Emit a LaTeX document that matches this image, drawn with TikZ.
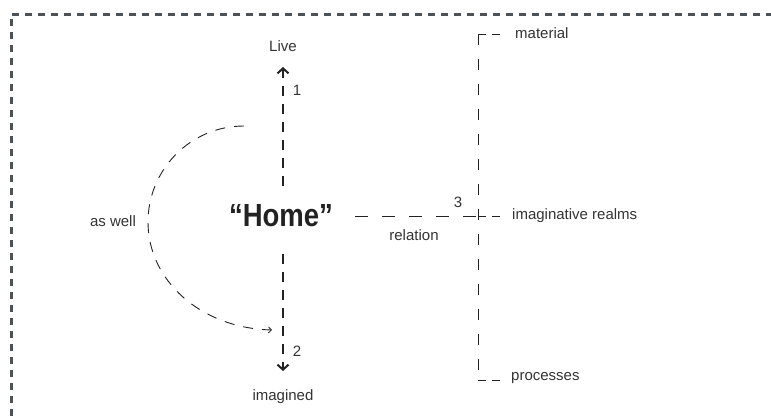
\documentclass[tikz,border=0pt]{standalone}
\usepackage{fontspec}
\setmainfont{Liberation Sans}
\usetikzlibrary{arrows.meta}
\definecolor{framec}{HTML}{4D5257}
\definecolor{inkc}{HTML}{222222}
\definecolor{txtc}{HTML}{333333}
\tikzset{
  lbl/.style={text=txtc, font=\fontsize{15}{18}\selectfont, inner sep=0pt},
  frameline/.style={draw=framec, line width=3pt, dash pattern=on 7pt off 6pt},
  boldaxis/.style={draw=inkc, line width=2.6pt, dash pattern=on 10pt off 8pt,
    -{Straight Barb[length=5pt,width=11pt,line width=2pt]}},
  thinline/.style={draw=inkc, line width=1pt, dash pattern=on 13pt off 14pt},
  bracketline/.style={draw=inkc, line width=1pt, dash pattern=on 11pt off 14pt},
  tickline/.style={draw=inkc, line width=1pt, dash pattern=on 8pt off 6pt},
  arcline/.style={draw=inkc, line width=0.9pt, dash pattern=on 10pt off 9pt,
    -{Straight Barb[length=3pt,width=6pt,line width=0.8pt]}}
}
\begin{document}
\begin{tikzpicture}[x=1pt,y=-1pt]
\useasboundingbox (0,0) rectangle (771,415);
% frame (top and left edges)
\coordinate (fbl) at (11,416);
\coordinate (ftl) at (11,14);
\coordinate (ftr) at (772,14);
\draw[frameline] (fbl) -- (ftl) -- (ftr);

% central texts
\node[inner sep=0pt, text=inkc] (home) at (281,216)
  {\scalebox{0.86}[1]{\fontsize{32}{36}\selectfont\bfseries “Home”}};
\node[lbl] (live) at (283,46) {Live};
\node[lbl] (imagined) at (283,397) {imagined};
\node[lbl] (n1) at (297,90) {1};
\node[lbl] (n2) at (297,351) {2};
\node[lbl] (n3) at (458,202) {3};
\node[lbl] (aswell) at (113,221) {as well};
\node[lbl] (relation) at (414,235) {relation};

% vertical arrows
\coordinate (upstart) at (283,186);
\coordinate (uptip) at (283,67);
\coordinate (dnstart) at (283,254);
\coordinate (dntip) at (283,371);
\draw[boldaxis] (upstart) -- (uptip);
\draw[boldaxis] (dnstart) -- (dntip);

% arc "as well"
\coordinate (arcs) at (244,126);
\coordinate (arce) at (272,330);
\draw[arcline] (arcs) .. controls (190,126) and (148,170) .. (148,222)
  .. controls (148,280) and (200,328) .. (arce);

% relation line and bracket
\coordinate (relstart) at (355,216);
\coordinate (cross) at (478,216);
\coordinate (btop) at (478,34);
\coordinate (bbot) at (478,380);
\draw[thinline] (relstart) -- (cross);
\draw[bracketline] (btop) -- (bbot);

\node[lbl, anchor=west] (material) at (515,33) {material};
\node[lbl, anchor=west] (realms) at (512,216) {imaginative realms};
\node[lbl, anchor=west] (processes) at (511,378) {processes};

\coordinate (ttop) at (500,34);
\coordinate (tmid) at (502,216);
\coordinate (tbot) at (500,380);
\draw[tickline] (btop) -- (ttop);
\draw[tickline] (cross) -- (tmid);
\draw[tickline] (bbot) -- (tbot);
\end{tikzpicture}
\end{document}
